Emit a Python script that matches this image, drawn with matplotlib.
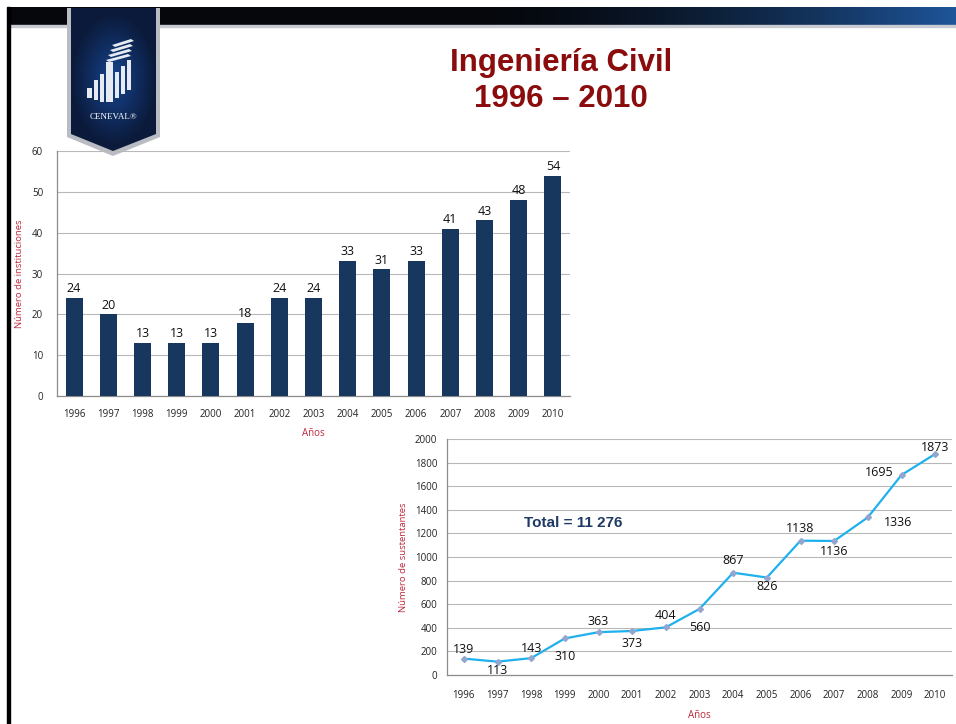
import numpy as np
import matplotlib
matplotlib.use("Agg")
import matplotlib.pyplot as plt
from matplotlib.patches import Polygon, Rectangle
from matplotlib import font_manager

years = ["1996", "1997", "1998", "1999", "2000", "2001", "2002", "2003",
         "2004", "2005", "2006", "2007", "2008", "2009", "2010"]
instituciones = [24, 20, 13, 13, 13, 18, 24, 24, 33, 31, 33, 41, 43, 48, 54]
sustentantes = [139, 113, 143, 310, 363, 373, 404, 560, 867, 826, 1138, 1136, 1336, 1695, 1873]
total_text = "Total = 11 276"
title_lines = ["Ingeniería Civil", "1996 – 2010"]

# label placement for the line chart (offset in points, vertical alignment)
lab_off = [(0, 2), (0, -2), (0, 2), (0, -8), (0, 3), (0, -4), (0, 4), (0, -9),
           (0, 4), (0, -2), (0, 4), (0, -3), (22, -4), (-16, 2), (0, 0)]
lab_va = ["bottom", "top", "bottom", "top", "bottom", "top", "bottom", "top",
          "bottom", "top", "bottom", "top", "center", "center", "bottom"]

avail = {f.name for f in font_manager.fontManager.ttflist}
title_font = "Liberation Sans Narrow" if "Liberation Sans Narrow" in avail else "Liberation Sans"
body_font = "Open Sans"
plt.rcParams['font.family'] = [body_font, 'DejaVu Sans']

W, H = 956, 724
fig = plt.figure(figsize=(W / 100, H / 100), dpi=100)
fig.patch.set_facecolor("white")

# ---- background decoration axes (pixel coordinates)
bg = fig.add_axes([0, 0, 1, 1], zorder=0)
bg.set_xlim(0, W)
bg.set_ylim(H, 0)
bg.axis("off")

# top header gradient
grad = np.linspace(0, 1, 256)
cols = np.zeros((1, 256, 3))
for i, t in enumerate(grad):
    s = max(0.0, (t - 0.5) / 0.5) ** 1.6
    cols[0, i] = (0.02 + 0.10 * s, 0.03 + 0.30 * s, 0.05 + 0.55 * s)
bg.imshow(cols, extent=(8, W, 25, 7), aspect="auto", zorder=1)
bg.add_patch(Rectangle((8, 25), W - 8, 1.5, color="#c8ccd2", zorder=1))
# left vertical border
bg.add_patch(Rectangle((7, 7), 3, H - 7, color="black", zorder=1))

# logo pennant
pen = Polygon([(67, 8), (160, 8), (160, 137), (113, 156), (67, 137)], closed=True,
              facecolor="#b9bcc2", edgecolor="none", zorder=2)
bg.add_patch(pen)
inner = Polygon([(71, 8), (156, 8), (156, 134), (113, 151), (71, 134)], closed=True,
                facecolor="#0b1a3a", edgecolor="none", zorder=3)
bg.add_patch(inner)
yy, xx = np.mgrid[0:150, 0:90]
d = np.sqrt(((xx - 45) / 45.0) ** 2 + ((yy - 75) / 70.0) ** 2)
g = np.clip(1 - d, 0, 1)
img = np.zeros((150, 90, 4))
img[..., 0] = 0.10
img[..., 1] = 0.30
img[..., 2] = 0.62
img[..., 3] = g * 0.85
im = bg.imshow(img, extent=(71, 156, 150, 8), aspect="auto", zorder=4)
im.set_clip_path(inner)
# icon (stylised)
icon_c = "#e6ebf2"
for (x0, y0, w, h) in [(87, 88, 5, 10), (94, 80, 4, 20), (100, 74, 4, 28),
                       (106, 62, 7, 40), (115, 72, 4, 26), (121, 66, 4, 28), (127, 60, 4, 30)]:
    bg.add_patch(Rectangle((x0, y0), w, h, facecolor=icon_c, edgecolor="none", zorder=5))
for k in range(4):
    bg.add_patch(Polygon([(106 + k * 2, 60 - k * 5), (128 + k * 1, 54 - k * 5),
                          (131 + k * 1, 56 - k * 5), (109 + k * 2, 62 - k * 5)],
                         closed=True, facecolor=icon_c, edgecolor="none", zorder=5))
bg.text(113, 117, "CENEVAL®", color="white", fontsize=6.5, ha="center", va="center",
        family=["Liberation Serif", "DejaVu Serif"], zorder=6)

# title
title_color = "#8b0c0c"
fig.text(561 / W, 1 - 63 / H, title_lines[0], ha="center", va="center", color=title_color,
         fontsize=22.5, fontweight="bold", family=[title_font, "DejaVu Sans"])
fig.text(561 / W, 1 - 99 / H, title_lines[1], ha="center", va="center", color=title_color,
         fontsize=22.5, fontweight="bold", family=[title_font, "DejaVu Sans"])

axis_title_color = "#c0283f"
tick_color = "#222222"
grid_color = "#b8b8b8"

# ---- bar chart
ax1 = fig.add_axes([57 / W, 1 - 396 / H, (570 - 57) / W, (396 - 151) / H], zorder=2)
ax1.set_facecolor("none")
x = np.arange(len(years))
ax1.bar(x, instituciones, width=0.5, color="#17375e", zorder=3)
for xi, v in zip(x, instituciones):
    ax1.annotate(str(v), (xi, v), xytext=(0, 2), textcoords="offset points",
                 ha="center", va="bottom", fontsize=9, color="#111111", zorder=4)
ax1.set_xlim(-0.5, len(years) - 0.5)
ax1.set_ylim(0, 60)
ax1.set_yticks(range(0, 61, 10))
ax1.set_xticks(x)
ax1.set_xticklabels(years)
ax1.tick_params(axis="both", length=0, labelsize=7, colors=tick_color)
ax1.tick_params(axis="x", pad=9)
ax1.tick_params(axis="y", pad=10)
ax1.grid(axis="y", color=grid_color, linewidth=0.8, zorder=0)
for s in ["top", "right"]:
    ax1.spines[s].set_visible(False)
for s in ["left", "bottom"]:
    ax1.spines[s].set_color("#8c8c8c")
    ax1.spines[s].set_linewidth(0.9)
ax1.set_xlabel("Años", color=axis_title_color, fontsize=7, labelpad=6)
ax1.set_ylabel("Número de instituciones", color=axis_title_color, fontsize=6.8, labelpad=6)

# ---- line chart
ax2 = fig.add_axes([447 / W, 1 - 675 / H, (952 - 447) / W, (675 - 439) / H], zorder=2)
ax2.set_facecolor("none")
ax2.plot(x, sustentantes, color="#1fb0ee", linewidth=1.6, marker="D", markersize=3.0,
         markerfacecolor="#93a6d0", markeredgecolor="#93a6d0", zorder=3)
for xi, v, off, va in zip(x, sustentantes, lab_off, lab_va):
    ax2.annotate(str(v), (xi, v), xytext=off, textcoords="offset points",
                 ha="center", va=va, fontsize=9, color="#111111", zorder=4)
ax2.set_xlim(-0.5, len(years) - 0.5)
ax2.set_ylim(0, 2000)
ax2.set_yticks(range(0, 2001, 200))
ax2.set_xticks(x)
ax2.set_xticklabels(years)
ax2.tick_params(axis="both", length=0, labelsize=7, colors=tick_color)
ax2.tick_params(axis="x", pad=11)
ax2.tick_params(axis="y", pad=7)
ax2.grid(axis="y", color=grid_color, linewidth=0.8, zorder=0)
for s in ["top", "right"]:
    ax2.spines[s].set_visible(False)
for s in ["left", "bottom"]:
    ax2.spines[s].set_color("#8c8c8c")
    ax2.spines[s].set_linewidth(0.9)
ax2.set_xlabel("Años", color=axis_title_color, fontsize=7, labelpad=6)
ax2.set_ylabel("Número de sustentantes", color=axis_title_color, fontsize=6.8, labelpad=5)
ax2.text(573 / W, 1 - 523 / H, total_text, transform=fig.transFigure, ha="center", va="center",
         fontsize=11, fontweight="bold", color="#1f3a64", family=["Liberation Sans", "DejaVu Sans"])

fig.savefig("out.png", dpi=100, facecolor="white")
